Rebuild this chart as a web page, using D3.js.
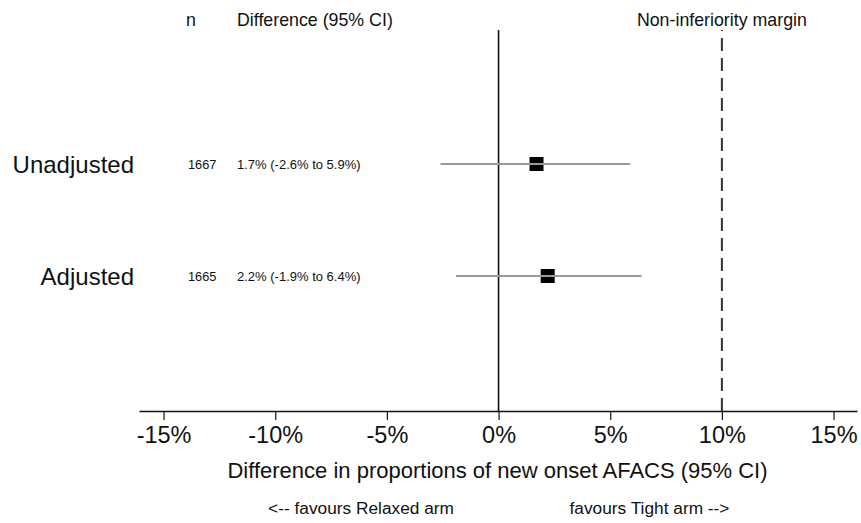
<!DOCTYPE html>
<html>
<head>
<meta charset="utf-8">
<script src="https://cdn.jsdelivr.net/npm/d3@7"></script>
<style>
  body { margin: 0; background: #fff; }
  svg { display: block; font-family: "Liberation Sans", Arial, Helvetica, sans-serif; }
  text { fill: #111; }
</style>
</head>
<body>
<svg id="chart" width="861" height="523"></svg>
<script>
// data
const labels = ["Unadjusted", "Adjusted"];
const nValues = [1667, 1665];
const estimates = [1.7, 2.2];
const lower = [-2.6, -1.9];
const upper = [5.9, 6.4];
const tickValues = [-15, -10, -5, 0, 5, 10, 15];
const niMargin = 10;

const rows = labels.map((d, i) => ({
    label: d, n: nValues[i], est: estimates[i], lo: lower[i], hi: upper[i]
}));

const svg = d3.select("#chart");

const x = d3.scaleLinear().domain([-16.1, 16.05]).range([139, 857]);
const y = d3.scalePoint().domain(labels).range([164, 276]);
const lineTop = 30, axisY = 411;

// headers
svg.append("text").attr("x", 191).attr("y", 26).attr("text-anchor", "middle")
   .style("font-size", "17.8px").text("n");
svg.append("text").attr("x", 237).attr("y", 26)
   .style("font-size", "17.8px").text("Difference (95% CI)");
svg.append("text").attr("x", x(niMargin)).attr("y", 26).attr("text-anchor", "middle")
   .style("font-size", "17.8px").text("Non-inferiority margin");

// reference lines
svg.append("line")
   .attr("x1", x(0)).attr("x2", x(0)).attr("y1", lineTop).attr("y2", axisY)
   .attr("stroke", "#111").attr("stroke-width", 1.6);

svg.append("line")
   .attr("x1", x(niMargin)).attr("x2", x(niMargin)).attr("y1", axisY).attr("y2", lineTop)
   .attr("stroke", "#333").attr("stroke-width", 2)
   .attr("stroke-dasharray", "13,7");

// axis
const axis = svg.append("g")
   .attr("transform", `translate(0,${axisY})`)
   .call(d3.axisBottom(x).tickValues(tickValues).tickFormat(d => d + "%")
         .tickSize(9).tickSizeOuter(0).tickPadding(6));
axis.select(".domain").attr("stroke", "#111").attr("stroke-width", 1.4);
axis.selectAll(".tick line").attr("stroke", "#111").attr("stroke-width", 1.2);
axis.selectAll(".tick text").style("font-size", "23.5px").style("font-family", "inherit").attr("fill", "#111");

// axis titles
svg.append("text").attr("x", 497.5).attr("y", 478).attr("text-anchor", "middle")
   .style("font-size", "22px").text("Difference in proportions of new onset AFACS (95% CI)");
svg.append("text").attr("x", 361).attr("y", 514).attr("text-anchor", "middle")
   .style("font-size", "17.3px").text("<-- favours Relaxed arm");
svg.append("text").attr("x", 649.5).attr("y", 514).attr("text-anchor", "middle")
   .style("font-size", "17.3px").text("favours Tight arm -->");

// rows
const g = svg.selectAll(".row").data(rows).enter().append("g").attr("class", "row");

g.append("text").attr("x", 134).attr("y", d => y(d.label) + 9)
 .attr("text-anchor", "end").style("font-size", "24px").text(d => d.label);

g.append("text").attr("x", 188).attr("y", d => y(d.label) + 5)
 .style("font-size", "12.8px").text(d => d.n);

g.append("text").attr("x", 237).attr("y", d => y(d.label) + 5)
 .style("font-size", "13px")
 .text(d => `${d.est.toFixed(1)}% (${d.lo.toFixed(1)}% to ${d.hi.toFixed(1)}%)`);

g.append("rect")
 .attr("x", d => x(d.est) - 7).attr("y", d => y(d.label) - 7)
 .attr("width", 14).attr("height", 14).attr("fill", "#000");

g.append("line")
 .attr("x1", d => x(d.lo)).attr("x2", d => x(d.hi))
 .attr("y1", d => y(d.label)).attr("y2", d => y(d.label))
 .attr("stroke", "#9a9a9a").attr("stroke-width", 2);
</script>
</body>
</html>
